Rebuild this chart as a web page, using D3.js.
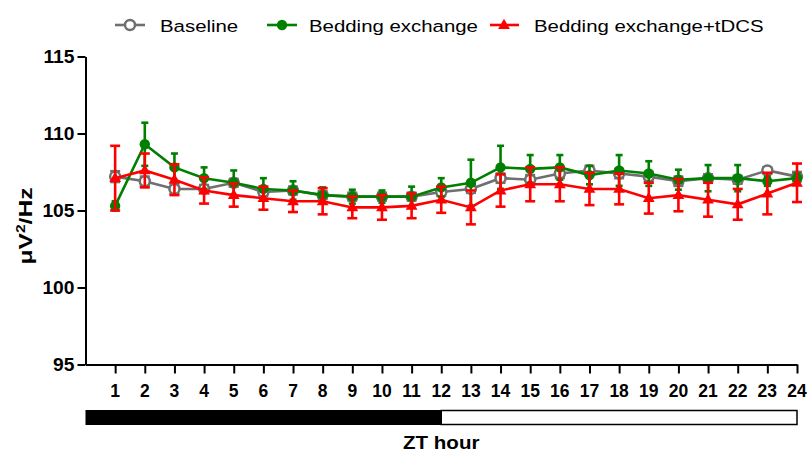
<!DOCTYPE html>
<html>
<head>
<meta charset="utf-8">
<script src="https://cdn.jsdelivr.net/npm/d3@7"></script>
<style>
  body { margin: 0; background: #fff; }
  svg { display: block; font-family: "Liberation Sans", Arial, sans-serif; }
</style>
</head>
<body>
<div id="chart"></div>
<script>
// *** DATA *** //
var hours = [1, 2, 3, 4, 5, 6, 7, 8, 9, 10, 11, 12, 13, 14, 15, 16, 17, 18, 19, 20, 21, 22, 23, 24];

var baseline_mean = [107.2, 106.9, 106.4, 106.4, 106.8, 106.2, 106.3, 106.0, 105.9, 105.9, 105.9, 106.2,
                     106.4, 107.1, 107.0, 107.4, 107.6, 107.4, 107.2, 106.9, 107.1, 107.0, 107.6, 107.2];
var baseline_sem = [0.35, 0.3, 0.3, 0.25, 0.25, 0.25, 0.25, 0.25, 0.25, 0.25, 0.25, 0.25,
                    0.25, 0.3, 0.3, 0.3, 0.3, 0.3, 0.3, 0.3, 0.25, 0.25, 0.2, 0.3];

var bedding_mean = [105.3, 109.3, 107.8, 107.1, 106.8, 106.4, 106.3, 106.0, 105.9, 105.9, 105.9, 106.5,
                    106.8, 107.8, 107.7, 107.8, 107.3, 107.6, 107.4, 107.0, 107.1, 107.1, 106.9, 107.1];
var bedding_sem = [0.3, 1.4, 0.9, 0.7, 0.8, 0.7, 0.6, 0.5, 0.45, 0.4, 0.65, 0.6,
                   1.5, 1.4, 0.9, 0.8, 0.6, 1.0, 0.8, 0.65, 0.85, 0.85, 0.3, 0.3];

var tdcs_mean = [107.1, 107.6, 107.0, 106.3, 106.0, 105.8, 105.6, 105.6, 105.2, 105.2, 105.3, 105.7,
                 105.2, 106.3, 106.7, 106.7, 106.4, 106.4, 105.8, 106.0, 105.7, 105.4, 106.1, 106.8];
var tdcs_sem = [2.1, 1.1, 1.0, 0.85, 0.75, 0.75, 0.7, 0.85, 0.7, 0.8, 0.8, 0.85,
                1.1, 1.05, 1.1, 1.1, 1.05, 1.0, 1.0, 1.05, 1.1, 1.0, 1.35, 1.25];

var y_ticks = [95, 100, 105, 110, 115];
var series_names = ["Baseline", "Bedding exchange", "Bedding exchange+tDCS"];
var series_colors = ["#6f6f6f", "#008000", "#ff0000"];
var dark_hours = [0, 12];
var light_hours = [12, 24];
////////////////

var create_chart = function() {
  // Change these to fine-tune graph
  var width = 809;
  var height = 452;
  //////////////////////////////////

  var x_scale = d3.scaleLinear().domain([0, 24]).range([85.5, 797]);
  var y_scale = d3.scaleLinear().domain([95, 115]).range([364.5, 56.5]);

  var svg = d3.select("#chart").append("svg")
      .attr("width", width)
      .attr("height", height);

  // stretched text, the source figure uses a wider face than Arial
  var add_text = function(parent, x, y, txt, size, weight, anchor, stretch) {
    return parent.append("text")
        .attr("transform", "translate(" + x + "," + y + ") scale(" + stretch + ",1)")
        .attr("text-anchor", anchor)
        .attr("font-size", size)
        .attr("font-weight", weight)
        .attr("fill", "#000")
        .text(txt);
  }

  // *** AXES *** //

  var y_axis = svg.append("g")
      .attr("transform", "translate(" + x_scale(0) + ",0)")
      .call(d3.axisLeft(y_scale).tickValues(y_ticks).tickSize(8).tickSizeOuter(0).tickFormat(""));

  var x_axis = svg.append("g")
      .attr("transform", "translate(0," + y_scale(95) + ")")
      .call(d3.axisBottom(x_scale).tickValues(hours).tickSize(9).tickSizeOuter(0).tickFormat(""));

  [y_axis, x_axis].forEach(function(ax) {
    ax.select(".domain").attr("stroke", "#000").attr("stroke-width", 2);
    ax.selectAll(".tick line").attr("stroke", "#000").attr("stroke-width", 2);
  });

  y_ticks.forEach(function(v) {
    add_text(svg, x_scale(0) - 11, y_scale(v) + 6, v, 17.5, "bold", "end", 1.1);
  });

  hours.forEach(function(h) {
    add_text(svg, x_scale(h), 396.5, h, 17.5, "bold", "middle", 1.0);
  });

  var y_label = svg.append("text")
      .attr("transform", "translate(32,226) rotate(-90) scale(1.3,1)")
      .attr("text-anchor", "middle")
      .attr("font-size", 19)
      .attr("font-weight", "bold");
  y_label.append("tspan").text("\u03bcV");
  y_label.append("tspan").attr("dy", -7).attr("font-size", 12).text("2");
  y_label.append("tspan").attr("dy", 7).text("/Hz");

  // light / dark bar
  svg.append("rect")
      .attr("x", x_scale(dark_hours[0]))
      .attr("y", 410)
      .attr("width", x_scale(dark_hours[1]) - x_scale(dark_hours[0]))
      .attr("height", 15)
      .attr("fill", "#000");
  svg.append("rect")
      .attr("x", x_scale(light_hours[0]))
      .attr("y", 410.5)
      .attr("width", x_scale(light_hours[1]) - x_scale(light_hours[0]))
      .attr("height", 14)
      .attr("fill", "#fff")
      .attr("stroke", "#000")
      .attr("stroke-width", 1.5);

  add_text(svg, x_scale(12), 449, "ZT hour", 19, "bold", "middle", 1.08);

  // *** SERIES *** //

  var line = d3.line()
      .x(function(d) { return x_scale(d.hour); })
      .y(function(d) { return y_scale(d.mean); });

  var draw_marker = function(g, kind, color, x, y) {
    if (kind == "circle_open") {
      g.append("circle").attr("cx", x).attr("cy", y).attr("r", 5)
          .attr("fill", "#fff").attr("stroke", color).attr("stroke-width", 2.5);
    } else if (kind == "circle") {
      g.append("circle").attr("cx", x).attr("cy", y).attr("r", 5.2)
          .attr("fill", color);
    } else {
      g.append("path").attr("d", d3.symbol().type(d3.symbolTriangle).size(60)())
          .attr("transform", "translate(" + x + "," + (y + 0.5) + ")")
          .attr("fill", color);
    }
  }

  var plot_series = function(means, sems, color, kind, cap) {
    var pts = hours.map(function(h, i) { return { hour: h, mean: means[i], sem: sems[i] }; });
    var g = svg.append("g");

    g.append("path").datum(pts)
        .attr("d", line)
        .attr("fill", "none")
        .attr("stroke", color)
        .attr("stroke-width", 2.6);

    for (var i = 0 ; i < pts.length ; i++) {
      var p = pts[i];
      var x = x_scale(p.hour);
      var y1 = y_scale(p.mean + p.sem);
      var y2 = y_scale(p.mean - p.sem);
      g.append("line").attr("x1", x).attr("x2", x).attr("y1", y1).attr("y2", y2)
          .attr("stroke", color).attr("stroke-width", 2.6);
      g.append("line").attr("x1", x - cap / 2).attr("x2", x + cap / 2).attr("y1", y1).attr("y2", y1)
          .attr("stroke", color).attr("stroke-width", 2.6);
      g.append("line").attr("x1", x - cap / 2).attr("x2", x + cap / 2).attr("y1", y2).attr("y2", y2)
          .attr("stroke", color).attr("stroke-width", 2.6);
    }

    for (var i = 0 ; i < pts.length ; i++) {
      draw_marker(g, kind, color, x_scale(pts[i].hour), y_scale(pts[i].mean));
    }
  }

  plot_series(baseline_mean, baseline_sem, series_colors[0], "circle_open", 10);
  plot_series(bedding_mean, bedding_sem, series_colors[1], "circle", 7);
  plot_series(tdcs_mean, tdcs_sem, series_colors[2], "triangle", 10);

  // *** LEGEND *** //

  var legend_y = 25;
  var legend_items = [
    { line: [115, 145], marker: 130, text: 160, kind: "circle_open" },
    { line: [267, 297], marker: 282, text: 309, kind: "circle" },
    { line: [490, 519], marker: 504, text: 534, kind: "triangle" }
  ];

  var legend = svg.append("g");
  for (var i = 0 ; i < legend_items.length ; i++) {
    var item = legend_items[i];
    legend.append("line")
        .attr("x1", item.line[0]).attr("x2", item.line[1])
        .attr("y1", legend_y).attr("y2", legend_y)
        .attr("stroke", series_colors[i]).attr("stroke-width", 2.6);
    draw_marker(legend, item.kind, series_colors[i], item.marker, legend_y);
    add_text(legend, item.text, legend_y + 6.5, series_names[i], 17, "normal", "start", 1.2);
  }
}

create_chart();
</script>
</body>
</html>
